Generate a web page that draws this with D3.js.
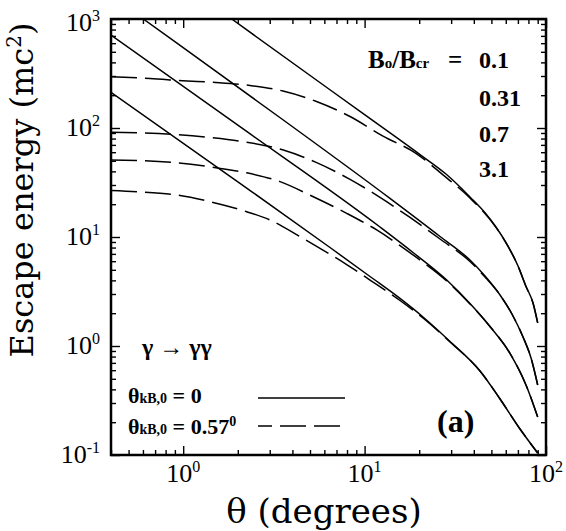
<!DOCTYPE html>
<html><head><meta charset="utf-8">
<script src="https://cdn.jsdelivr.net/npm/d3@7"></script>
<style>body{margin:0;background:#fff}svg{display:block}</style>
</head><body><svg id="c" width="566" height="531"></svg>
<script>
// ---- data ----
const xDomain = [0.4, 100];
const yDomain = [0.1, 1000];
const xMajor = [1, 10, 100];
const xMajorExp = ["0", "1", "2"];
const yMajor = [0.1, 1, 10, 100, 1000];
const yMajorExp = ["-1", "0", "1", "2", "3"];
const bLabels = ["0.1", "0.31", "0.7", "3.1"];

// solid: theta_kB,0 = 0
const thetaSolid01 = [0.4, 1.851, 10, 20.2, 28.1, 38.1, 46.1, 53.0, 61.7, 70.1, 77.6, 84.8, 90];
const energySolid01 = [6270, 1000, 132.4, 57.0, 37.8, 23.3, 16.7, 12.35, 8.26, 5.42, 3.52, 2.48, 1.63];
const thetaSolid031 = [0.4, 0.6026, 3.563, 13.8, 26.05, 38.1, 46.1, 55.8, 64.9, 74.7, 82.7, 90];
const energySolid031 = [1633, 1000, 118.4, 22.6, 10.1, 6.15, 4.39, 2.94, 1.966, 1.21, 0.776, 0.439];
const thetaSolid07 = [0.4, 2.056, 12.16, 18.49, 28.36, 38.1, 49.1, 63.3, 78.3, 90];
const energySolid07 = [713, 102.8, 12.35, 7.21, 4.03, 2.455, 1.51, 0.857, 0.423, 0.223];
const thetaSolid31 = [0.4, 2.056, 6.447, 10.71, 15.67, 20.99, 29.57, 43.27, 55.8, 71.9, 90];
const energySolid31 = [212.6, 31.1, 8.01, 4.34, 2.73, 1.845, 1.10, 0.590, 0.3265, 0.173, 0.1043];

// dashed: theta_kB,0 = 0.57 deg
const thetaDash01 = [0.4, 0.656, 0.994, 1.516, 2.335, 3.549, 5.432, 8.309, 12.63, 19.28, 27.05, 38.1, 53.0, 61.7, 70.1, 77.6, 84.8, 90];
const energyDash01 = [295.5, 284.6, 271.8, 261.5, 245.5, 218.5, 175.0, 127.5, 84.3, 58.3, 37.1, 22.8, 12.25, 8.26, 5.42, 3.52, 2.48, 1.63];
const thetaDash031 = [0.4, 0.864, 1.405, 2.239, 3.563, 5.445, 8.309, 12.16, 17.8, 26.05, 38.1, 46.1, 55.8, 64.9, 74.7, 82.7, 90];
const energyDash031 = [91.3, 87.5, 81.8, 74.1, 62.8, 48.1, 33.8, 23.1, 15.1, 9.59, 5.96, 4.30, 2.94, 1.966, 1.21, 0.776, 0.439];
const thetaDash07 = [0.4, 0.864, 1.405, 2.239, 3.418, 5.214, 7.967, 11.66, 18.49, 28.36, 38.1, 49.1, 63.3, 78.3, 90];
const energyDash07 = [50.9, 48.4, 44.1, 38.8, 32.2, 23.4, 16.5, 11.6, 6.84, 3.95, 2.43, 1.51, 0.857, 0.423, 0.223];
const thetaDash31 = [0.4, 0.554, 0.921, 1.405, 2.239, 3.009, 4.404, 5.678, 7.967, 10.71, 15.67, 20.99, 29.57, 43.27, 55.8, 71.9, 90];
const energyDash31 = [26.7, 26.0, 24.3, 21.1, 17.07, 14.32, 10.07, 7.88, 5.59, 4.03, 2.615, 1.806, 1.09, 0.590, 0.3265, 0.173, 0.1043];

// ---- drawing ----
const svg = d3.select("#c");
const L = 111, R = 546, T = 19, B = 455;
const x = d3.scaleLog().domain(xDomain).range([L, R]);
const y = d3.scaleLog().domain(yDomain).range([B, T]);
const serif = "'Liberation Serif', 'Times New Roman', serif";
const wide = "'DejaVu Serif', serif";

svg.append("defs").append("clipPath").attr("id", "clip")
  .append("rect").attr("x", L).attr("y", T).attr("width", R - L).attr("height", B - T);

const zip = (a, b) => a.map((v, i) => [v, b[i]]);
const line = d3.line().x(d => x(d[0])).y(d => y(d[1])).curve(d3.curveMonotoneX);

const solids = [[thetaSolid01, energySolid01], [thetaSolid031, energySolid031],
                [thetaSolid07, energySolid07], [thetaSolid31, energySolid31]];
const dashes = [[thetaDash01, energyDash01], [thetaDash031, energyDash031],
                [thetaDash07, energyDash07], [thetaDash31, energyDash31]];

const g = svg.append("g").attr("clip-path", "url(#clip)");
solids.forEach(s => g.append("path").attr("d", line(zip(s[0], s[1])))
  .attr("fill", "none").attr("stroke", "#000").attr("stroke-width", 1.5));
dashes.forEach(s => g.append("path").attr("d", line(zip(s[0], s[1])))
  .attr("fill", "none").attr("stroke", "#000").attr("stroke-width", 1.5)
  .attr("stroke-dasharray", "26,8"));

// ticks (inward on all sides)
const xMinor = x.ticks().filter(v => !xMajor.includes(v));
const yMinor = y.ticks().filter(v => !yMajor.includes(v));
function ax(gen, scale, vals, size, tr) {
  const a = svg.append("g").attr("transform", tr)
    .call(gen(scale).tickValues(vals).tickSize(-size).tickFormat(""));
  a.select(".domain").remove();
  a.selectAll("line").attr("stroke", "#000").attr("stroke-width", 1.4);
}
ax(d3.axisBottom, x, xMinor, 5, `translate(0,${B})`);
ax(d3.axisBottom, x, xMajor, 9, `translate(0,${B})`);
ax(d3.axisTop, x, xMinor, 5, `translate(0,${T})`);
ax(d3.axisTop, x, xMajor, 9, `translate(0,${T})`);
ax(d3.axisLeft, y, yMinor, 5, `translate(${L},0)`);
ax(d3.axisLeft, y, yMajor, 9, `translate(${L},0)`);
ax(d3.axisRight, y, yMinor, 5, `translate(${R},0)`);
ax(d3.axisRight, y, yMajor, 9, `translate(${R},0)`);

svg.append("rect").attr("x", L).attr("y", T).attr("width", R - L).attr("height", B - T)
  .attr("fill", "none").attr("stroke", "#000").attr("stroke-width", 2.5);

// tick labels
xMajor.forEach((v, i) => {
  const t = svg.append("text").attr("x", x(v)).attr("y", 482)
    .attr("text-anchor", "middle").attr("font-family", serif).attr("font-size", 26);
  t.append("tspan").text("10");
  t.append("tspan").attr("dy", -10).attr("font-size", 16).text(xMajorExp[i]);
});
yMajor.forEach((v, i) => {
  const t = svg.append("text").attr("x", 100).attr("y", y(v) + (i === 4 ? 12 : 8))
    .attr("text-anchor", "end").attr("font-family", serif).attr("font-size", 26);
  t.append("tspan").text("10");
  t.append("tspan").attr("dy", -10).attr("font-size", 16).text(yMajorExp[i]);
});

// axis titles
svg.append("text").attr("x", 324).attr("y", 523).attr("text-anchor", "middle")
  .attr("font-family", wide).attr("font-size", 34).text("θ (degrees)");
const yt = svg.append("text").attr("transform", "translate(33,190) rotate(-90)")
  .attr("text-anchor", "middle").attr("font-family", wide).attr("font-size", 32);
yt.append("tspan").text("Escape energy (mc");
yt.append("tspan").attr("dy", -12).attr("font-size", 20).text("2");
yt.append("tspan").attr("dy", 12).text(")");

// legend: B ratios
const bt = svg.append("text").attr("x", 368).attr("y", 68).attr("font-family", serif)
  .attr("font-weight", "bold").attr("font-size", 25);
bt.append("tspan").text("B");
bt.append("tspan").attr("font-size", 15).text("o");
bt.append("tspan").text("/B");
bt.append("tspan").attr("font-size", 15).text("cr");
svg.append("text").attr("x", 448).attr("y", 68).attr("font-family", serif)
  .attr("font-weight", "bold").attr("font-size", 25).text("=");
const bY = [68, 106, 142, 177];
bLabels.forEach((s, i) => svg.append("text").attr("x", 479).attr("y", bY[i])
  .attr("font-family", serif).attr("font-weight", "bold").attr("font-size", 24).text(s));

// legend: process and line styles
svg.append("text").attr("x", 142).attr("y", 355).attr("font-family", serif)
  .attr("font-weight", "bold").attr("font-size", 24).text("γ → γγ");
function thLabel(yy, val, deg) {
  const t = svg.append("text").attr("x", 128).attr("y", yy).attr("font-family", serif)
    .attr("font-weight", "bold").attr("font-size", 22);
  t.append("tspan").text("θ");
  t.append("tspan").attr("font-size", 14).text("kB,0");
  t.append("tspan").text(" = " + val);
  if (deg) t.append("tspan").attr("dy", -8).attr("font-size", 14).text("0");
}
thLabel(403, "0", false);
thLabel(434, "0.57", true);
svg.append("line").attr("x1", 258).attr("x2", 345).attr("y1", 398).attr("y2", 398)
  .attr("stroke", "#000").attr("stroke-width", 1.5);
svg.append("line").attr("x1", 258).attr("x2", 345).attr("y1", 426).attr("y2", 426)
  .attr("stroke", "#000").attr("stroke-width", 1.5).attr("stroke-dasharray", "26,8")
  .attr("stroke-dashoffset", 12);

svg.append("text").attr("x", 437).attr("y", 432).attr("font-family", serif)
  .attr("font-weight", "bold").attr("font-size", 32).text("(a)");
</script></body></html>
